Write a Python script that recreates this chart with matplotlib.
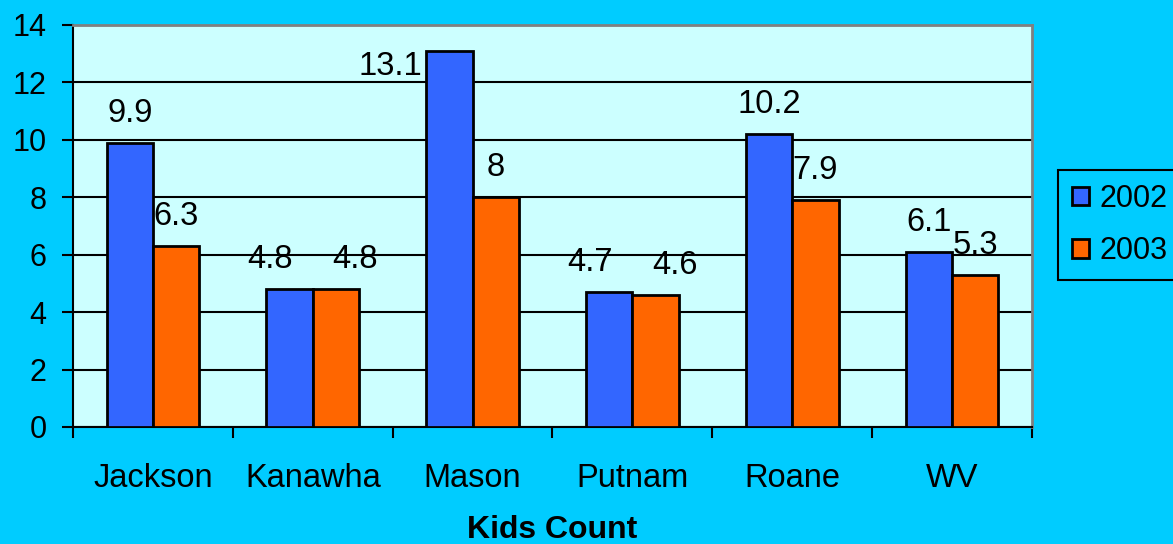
import numpy as np
import matplotlib.pyplot as plt
from matplotlib.ticker import FixedLocator
plt.switch_backend('agg')

plt.rcParams['font.family'] = ['Liberation Sans', 'DejaVu Sans']

# data
counties = ['Jackson', 'Kanawha', 'Mason', 'Putnam', 'Roane', 'WV']
v2002 = [9.9, 4.8, 13.1, 4.7, 10.2, 6.1]
v2003 = [6.3, 4.8, 8, 4.6, 7.9, 5.3]
years = ['2002', '2003']

#colors
bg = '#00CCFF'
plotbg = '#CCFFFF'
c2002 = '#3366FF'
c2003 = '#FF6600'
fs = 23.5
fs_y = 22

fig = plt.figure(figsize=(11.73, 5.44), dpi=100, facecolor=bg)
ax = fig.add_axes([73/1173, 117/544, 959/1173, 402/544])
ax.set_facecolor(plotbg)

x = np.arange(len(counties))
w = 0.29
b1 = ax.bar(x - w/2, v2002, w, color=c2002, edgecolor='black', linewidth=2, label=years[0], zorder=3)
b2 = ax.bar(x + w/2, v2003, w, color=c2003, edgecolor='black', linewidth=2, label=years[1], zorder=3)

ax.set_xlim(-0.5, len(counties) - 0.5)
ax.set_ylim(0, 14)
ax.set_yticks(np.arange(0, 15, 2))
ax.yaxis.grid(True, color='black', linewidth=1.5, zorder=1)
ax.set_axisbelow(True)

# x ticks at boundaries, labels at centers
ax.xaxis.set_major_locator(FixedLocator(np.arange(-0.5, len(counties), 1)))
ax.xaxis.set_major_formatter(plt.NullFormatter())
ax.xaxis.set_minor_locator(FixedLocator(x))
ax.set_xticklabels(counties, minor=True)
ax.tick_params(axis='x', which='major', direction='out', length=8, width=1.5, color='black')
ax.tick_params(axis='x', which='minor', length=0, pad=26, labelsize=fs)
ax.tick_params(axis='y', direction='out', length=8, width=1.5, pad=11, labelsize=fs_y)

for s in ['left', 'bottom']:
    ax.spines[s].set_color('black')
    ax.spines[s].set_linewidth(1.5)
for s in ['top', 'right']:
    ax.spines[s].set_color('#808080')
    ax.spines[s].set_linewidth(2)

#value labels
for i in range(len(counties)):
    close = abs(v2002[i] - v2003[i]) < 0.5
    for r, side in ((b1[i], -1), (b2[i], 1)):
        h = r.get_height()
        cx = r.get_x() + r.get_width()/2
        if h + 1.2 > 14:
            ax.annotate('%g' % h, (r.get_x(), h), xytext=(-3, 0), textcoords='offset points',
                        ha='right', va='top', fontsize=fs)
        else:
            dx = side * 14 if close else 0
            ax.annotate('%g' % h, (cx, h), xytext=(dx, 10), textcoords='offset points',
                        ha='center', va='bottom', fontsize=fs)

fig.text(552/1173, 1 - 530/544, 'Kids Count', ha='center', va='center',
         fontsize=23, fontweight='bold')

leg = fig.legend(loc='center left', bbox_to_anchor=(1058/1173, 1 - 225/544),
                 fontsize=22, frameon=True, fancybox=False, handlelength=0.55,
                 handleheight=0.55, handletextpad=0.35, borderpad=0.45, labelspacing=0.75,
                 borderaxespad=0)
leg.get_frame().set_facecolor(bg)
leg.get_frame().set_edgecolor('black')
leg.get_frame().set_linewidth(1.5)
leg.get_frame().set_alpha(1)

fig.savefig('out.png', dpi=100, facecolor=bg)
